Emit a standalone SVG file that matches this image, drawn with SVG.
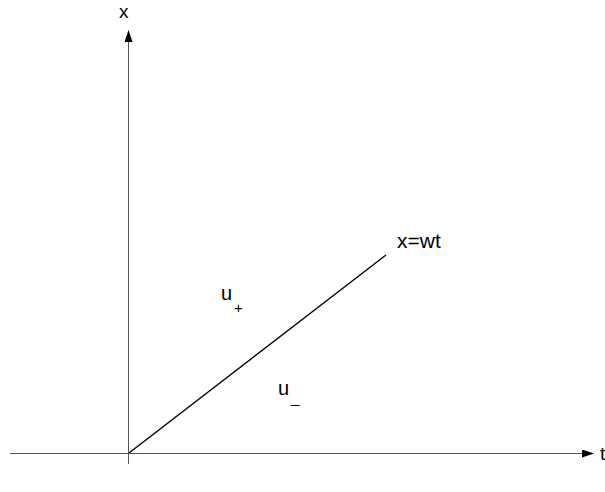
<svg xmlns="http://www.w3.org/2000/svg" width="605" height="492" viewBox="0 0 605 492">
<style>
text{font-family:"Liberation Sans",Arial,sans-serif;fill:#000}
.axis{stroke:#555;stroke-width:1;fill:none}
.ln{stroke:#000;stroke-width:1.4;fill:none}
</style>
<defs>
<marker id="ah" markerWidth="12" markerHeight="8" refX="11" refY="4" orient="auto" markerUnits="userSpaceOnUse">
<path d="M0,0 L12,4 L0,8 Z" fill="#000"/>
</marker>
</defs>
<rect width="605" height="492" fill="#fff"/>
<g id="connectors">
<line class="axis" x1="128.5" y1="464" x2="128.5" y2="31" marker-end="url(#ah)"/>
<line class="axis" x1="10" y1="453.5" x2="593" y2="453.5" marker-end="url(#ah)"/>
<line class="ln" x1="129" y1="453" x2="386" y2="255"/>
</g>
<g id="labels">
<text x="119" y="18" font-size="19">x</text>
<text x="600" y="460" font-size="19">t</text>
<text x="397" y="248" font-size="21">x=wt</text>
<text x="221" y="300" font-size="20">u</text>
<text x="234" y="313" font-size="15">+</text>
<text x="278" y="395" font-size="20">u</text>
<text x="291" y="403" font-size="15">_</text>
</g>
</svg>
